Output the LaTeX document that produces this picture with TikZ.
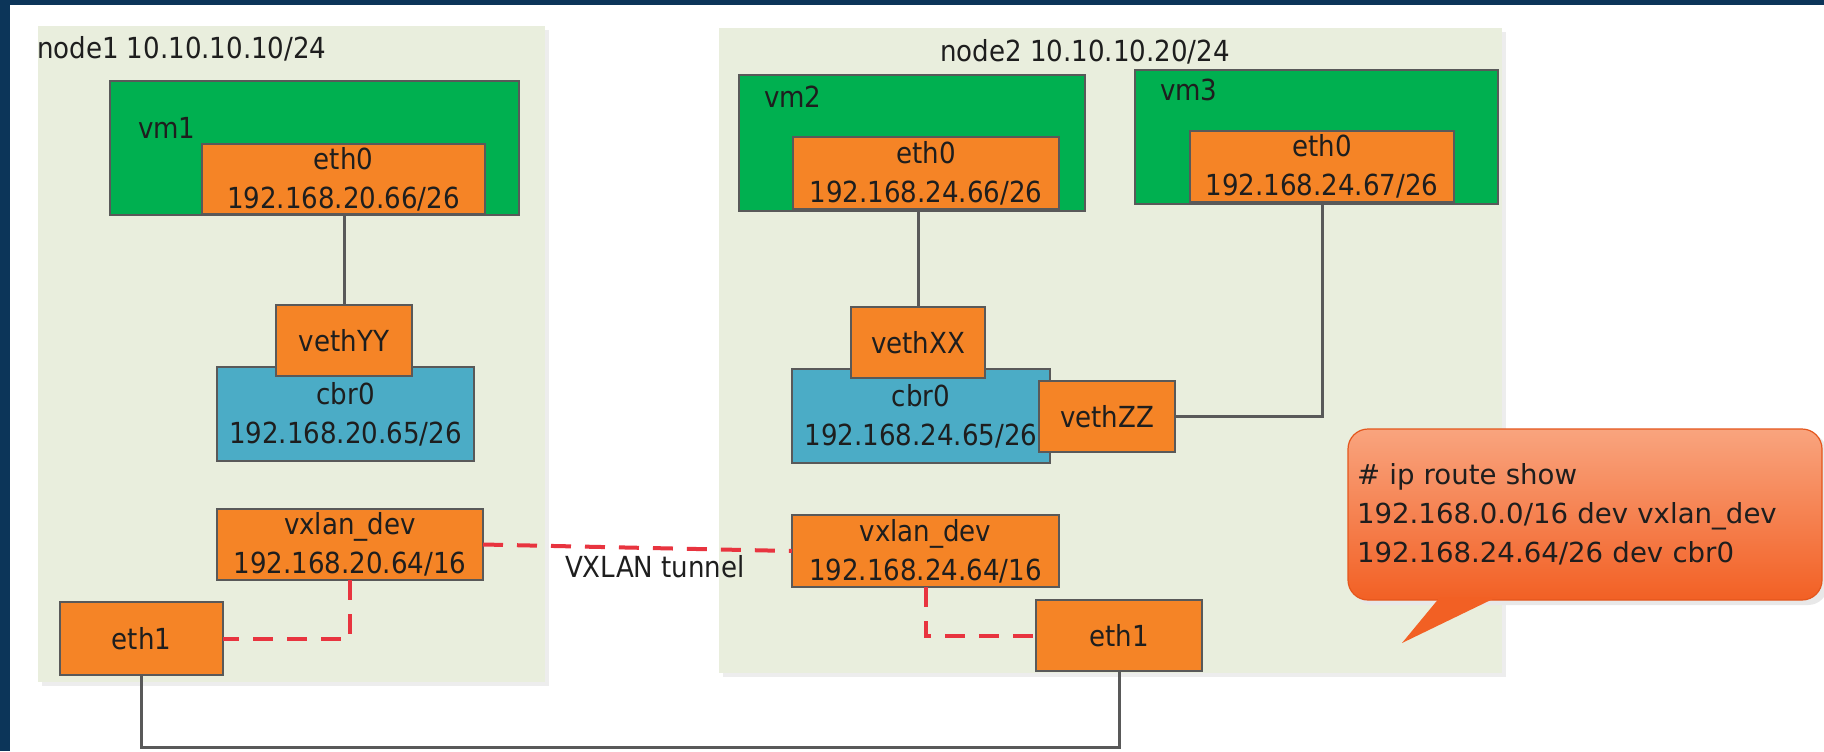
\documentclass[tikz,border=0pt]{standalone}
\usepackage{fontspec}
\setmainfont{DejaVu Sans Condensed}
\newfontfamily\calloutfont{DejaVu Sans}
\definecolor{navy}{HTML}{0C3559}
\definecolor{hostbg}{HTML}{E9EEDD}
\definecolor{vmgreen}{HTML}{00B050}
\definecolor{ifaceorange}{HTML}{F58426}
\definecolor{bridgeblue}{HTML}{4BACC6}
\definecolor{edgegray}{HTML}{595959}
\definecolor{tunnelred}{HTML}{E8343F}
\definecolor{calltop}{HTML}{F9A47E}
\definecolor{callmid}{HTML}{F67A4A}
\definecolor{callbot}{HTML}{F26024}
\definecolor{callline}{HTML}{E4561C}
\definecolor{txt}{HTML}{1E1E1E}
\tikzset{
  base/.style={inner sep=0pt, outer sep=0pt, text=txt, font=\fontsize{14.5}{19.5}\selectfont, align=center},
  hostbox/.style={base, fill=hostbg},
  vmbox/.style={base, fill=vmgreen, draw=edgegray, line width=1pt},
  ifbox/.style={base, fill=ifaceorange, draw=edgegray, line width=1pt},
  brbox/.style={base, fill=bridgeblue, draw=edgegray, line width=1pt},
  lbl/.style={base},
  wire/.style={draw=edgegray, line width=1.5pt},
  tunnel/.style={draw=tunnelred, line width=2pt, dash pattern=on 10pt off 7pt},
  callbody/.style={inner xsep=4.5pt, inner ysep=0pt, outer sep=0pt, rounded corners=10pt,
    top color=calltop, middle color=callmid, bottom color=callbot, draw=callline, line width=0.6pt,
    text=txt, align=left, font=\calloutfont\fontsize{13.8}{19.5}\selectfont},
}
\begin{document}
\begin{tikzpicture}[x=0.5pt, y=-0.5pt]
\useasboundingbox (0,0) rectangle (1824,751);
\fill[white] (0,0) rectangle (1824,751);
\fill[navy] (0,0) rectangle (1824,5);
\fill[navy] (0,0) rectangle (10,751);

% hosts
\fill[black!7] (42,30) rectangle (549,686);
\fill[black!7] (723,32) rectangle (1506,677);
\node[hostbox, minimum width=253.5pt, minimum height=328pt] (node1) at (291.5,354) {};
\node[hostbox, minimum width=391.5pt, minimum height=322.5pt] (node2) at (1110.5,350.5) {};
\node[lbl, anchor=west] (node1lbl) at (37,49) {node1 10.10.10.10/24};
\node[lbl] (node2lbl) at (1085,52) {node2 10.10.10.20/24};

% node1
\node[vmbox, minimum width=204.5pt, minimum height=67pt] (vm1) at (314.5,148) {};
\node[lbl, anchor=west] (vm1lbl) at (138,128) {vm1};
\node[ifbox, minimum width=141.5pt, minimum height=35pt] (eth0a) at (343.5,179) {eth0\\192.168.20.66/26};
\node[brbox, minimum width=128.5pt, minimum height=47pt] (cbr0a) at (345.5,414) {cbr0\\192.168.20.65/26};
\node[ifbox, minimum width=68pt, minimum height=35.5pt] (vethYY) at (344,340.5) {vethYY};
\node[ifbox, minimum width=133pt, minimum height=35.5pt] (vxlana) at (350,544.5) {vxlan\_dev\\192.168.20.64/16};
\node[ifbox, minimum width=81.5pt, minimum height=36.5pt] (eth1a) at (141.5,638.5) {eth1};

% node2
\node[vmbox, minimum width=173pt, minimum height=68pt] (vm2) at (912,143) {};
\node[lbl, anchor=west] (vm2lbl) at (764,97) {vm2};
\node[ifbox, minimum width=133pt, minimum height=36pt] (eth0b) at (926,173) {eth0\\192.168.24.66/26};
\node[vmbox, minimum width=181.5pt, minimum height=67pt] (vm3) at (1316.5,137) {};
\node[lbl, anchor=west] (vm3lbl) at (1160,90) {vm3};
\node[ifbox, minimum width=132pt, minimum height=35.5pt] (eth0c) at (1322,166.5) {eth0\\192.168.24.67/26};
\node[brbox, minimum width=129pt, minimum height=47pt] (cbr0b) at (921,416) {cbr0\\192.168.24.65/26};
\node[ifbox, minimum width=67pt, minimum height=35.5pt] (vethXX) at (918,342.5) {vethXX};
\node[ifbox, minimum width=68pt, minimum height=35.5pt] (vethZZ) at (1107,416.5) {vethZZ};
\node[ifbox, minimum width=133.5pt, minimum height=36pt] (vxlanb) at (925.5,551) {vxlan\_dev\\192.168.24.64/16};
\node[ifbox, minimum width=83pt, minimum height=35.5pt] (eth1b) at (1119,635.5) {eth1};

% connectors
\draw[wire] (vethYY.north) -- (vethYY.north |- eth0a.south);
\draw[wire] (vethXX.north) -- (vethXX.north |- eth0b.south);
\draw[wire] (eth0c.south) |- (vethZZ.east);
\draw[tunnel] (vxlana.east) -- (vxlanb.west);
\draw[tunnel] (vxlana.south) |- (eth1a.east);
\draw[tunnel] (vxlanb.south) |- (eth1b.west);
\coordinate (bus) at (0,747);
\draw[wire] (eth1a.south) -- (eth1a.south |- bus) -- (eth1b.south |- bus) -- (eth1b.south);
\node[lbl] (tunlbl) at (655,567) {VXLAN tunnel};

% callout
\fill[black!9, rounded corners=10pt] (1353,434) rectangle (1828,605);
\node[callbody, minimum height=85.5pt, text width=228pt] (route) at (1585,514.5)
  {\# ip route show\\192.168.0.0/16 dev vxlan\_dev\\192.168.24.64/26 dev cbr0};
\fill[callbot] (1440,597) -- (1402,643) -- (1497,597) -- cycle;
\end{tikzpicture}
\end{document}
